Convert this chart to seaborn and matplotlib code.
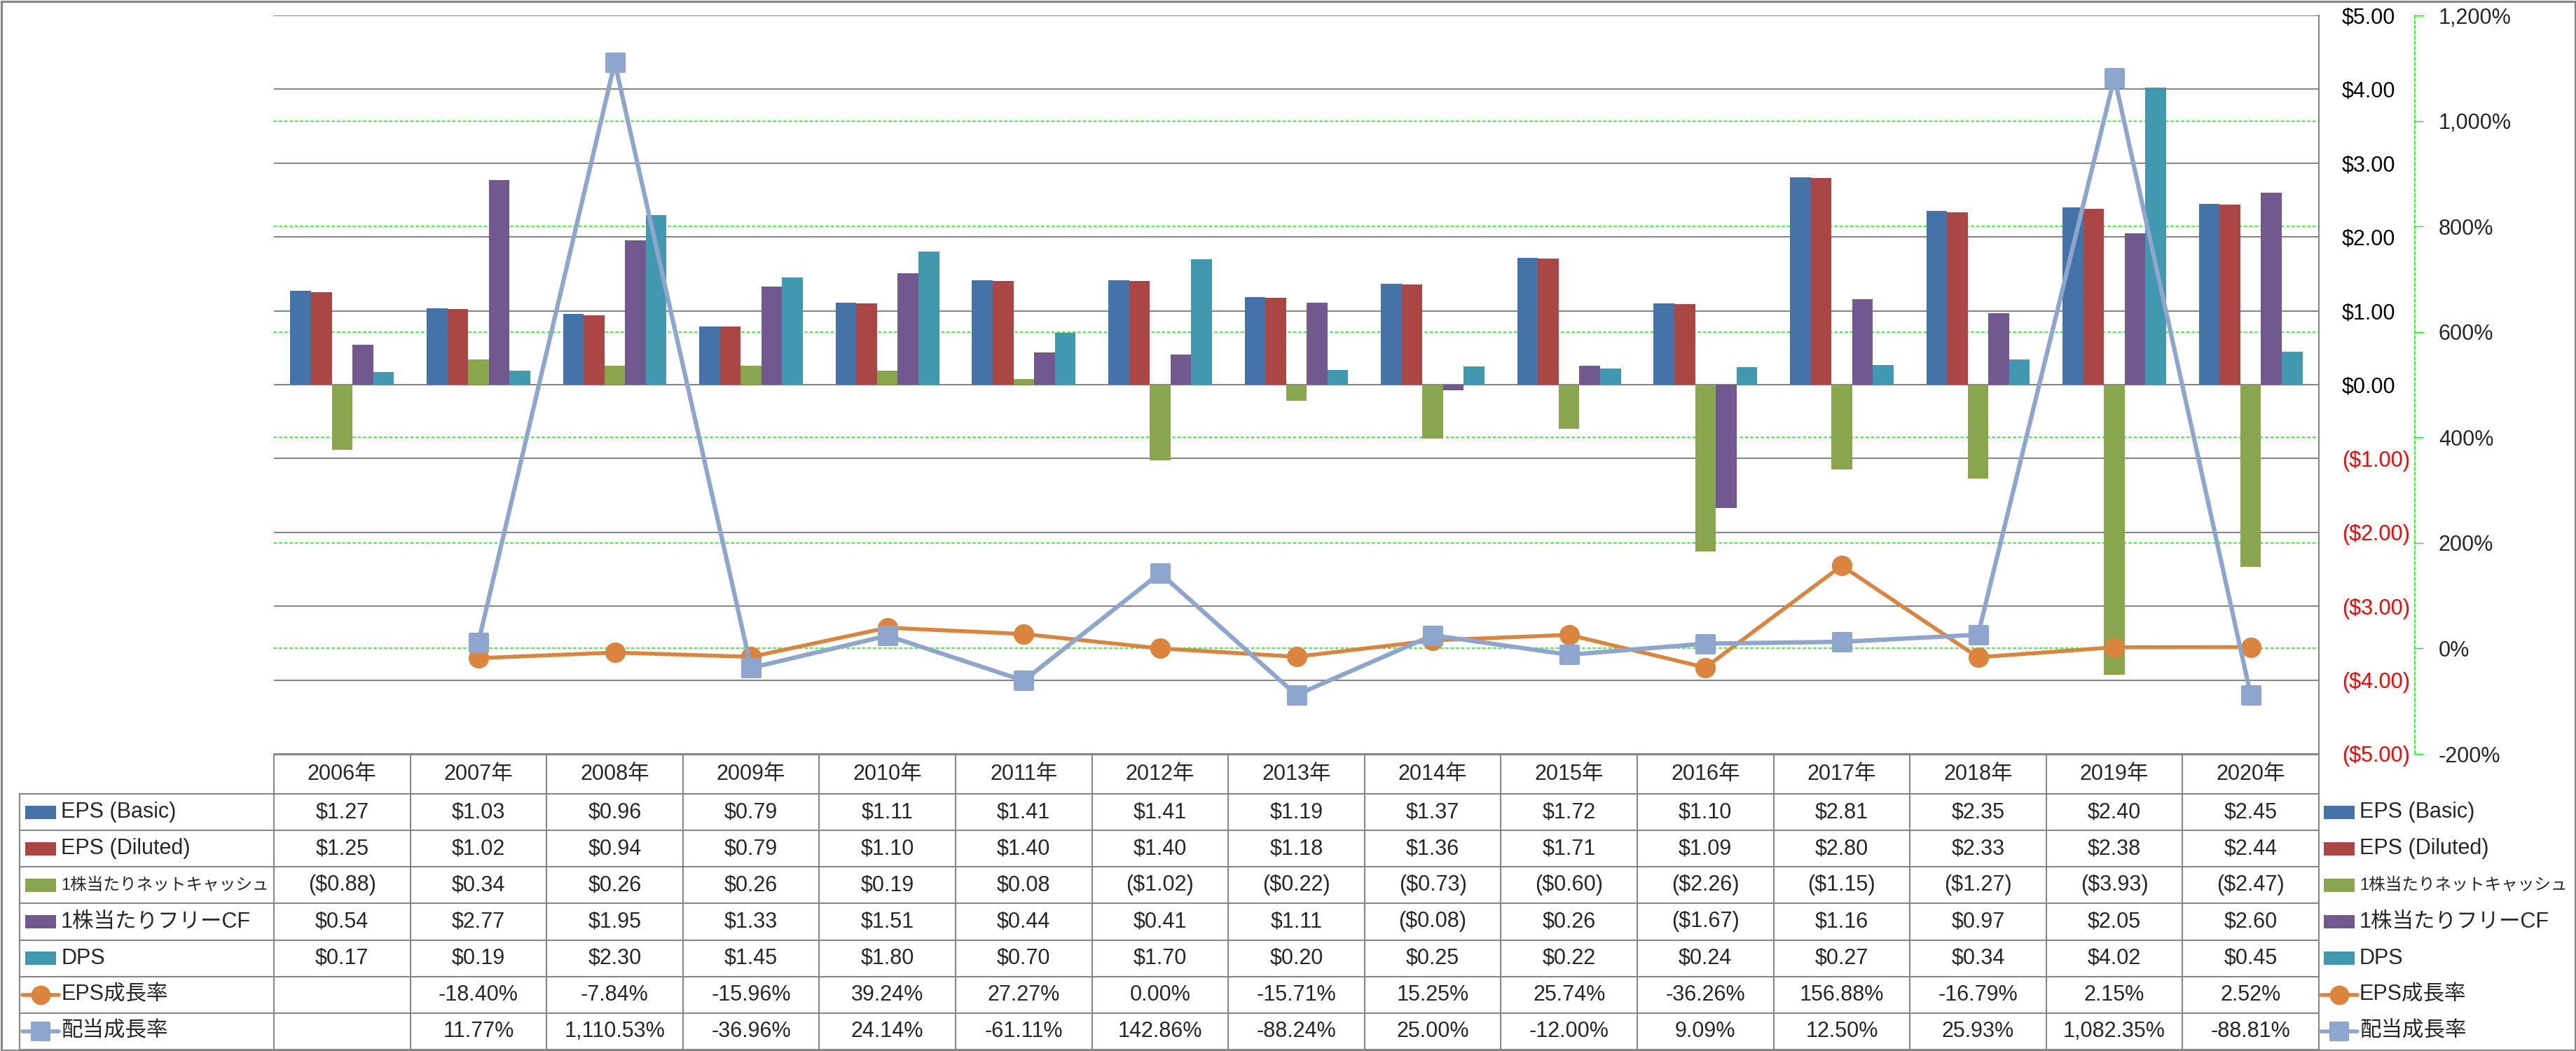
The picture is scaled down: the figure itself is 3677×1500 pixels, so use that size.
import numpy as np
import pandas as pd
import matplotlib
matplotlib.use("Agg")
import matplotlib.pyplot as plt
import seaborn as sns
from matplotlib.patches import Rectangle
from matplotlib.markers import MarkerStyle

# ---------------- data ----------------
years = [f"{y}年" for y in range(2006, 2021)]

bar_series = ["EPS (Basic)", "EPS (Diluted)", "1株当たりネットキャッシュ", "1株当たりフリーCF", "DPS"]
eps_basic = [1.27, 1.03, 0.96, 0.79, 1.11, 1.41, 1.41, 1.19, 1.37, 1.72, 1.10, 2.81, 2.35, 2.40, 2.45]
eps_diluted = [1.25, 1.02, 0.94, 0.79, 1.10, 1.40, 1.40, 1.18, 1.36, 1.71, 1.09, 2.80, 2.33, 2.38, 2.44]
net_cash_ps = [-0.88, 0.34, 0.26, 0.26, 0.19, 0.08, -1.02, -0.22, -0.73, -0.60, -2.26, -1.15, -1.27, -3.93, -2.47]
fcf_ps = [0.54, 2.77, 1.95, 1.33, 1.51, 0.44, 0.41, 1.11, -0.08, 0.26, -1.67, 1.16, 0.97, 2.05, 2.60]
dps = [0.17, 0.19, 2.30, 1.45, 1.80, 0.70, 1.70, 0.20, 0.25, 0.22, 0.24, 0.27, 0.34, 4.02, 0.45]

line_series = ["EPS成長率", "配当成長率"]
eps_growth = [np.nan, -18.40, -7.84, -15.96, 39.24, 27.27, 0.00, -15.71, 15.25, 25.74, -36.26, 156.88, -16.79, 2.15, 2.52]
div_growth = [np.nan, 11.77, 1110.53, -36.96, 24.14, -61.11, 142.86, -88.24, 25.00, -12.00, 9.09, 12.50, 25.93, 1082.35, -88.81]

money_ticks = list(range(-5, 6))
pct_ticks = list(range(-200, 1201, 200))

bar_colors = ["#4572A7", "#AA4643", "#89A54E", "#71588F", "#4198AF"]
line_colors = ["#DB843D", "#8EA6CE"]

# ---------------- setup ----------------
sns.set_style("white")
plt.rcParams["font.family"] = ["Liberation Sans", "Noto Sans CJK JP"]

W, H = 3677, 1500
PL, PR, PT, PB = 391, 3310, 22, 1076
GRAY = "#868686"
GREEN = "#00FF00"
RED = "#FF0000"
FS = 22

fig = plt.figure(figsize=(W / 100, H / 100), dpi=100)
fig.patch.set_facecolor("white")
ax = fig.add_axes([PL / W, 1 - PB / H, (PR - PL) / W, (PB - PT) / H])
ax2 = ax.twinx()

bar_values = [eps_basic, eps_diluted, net_cash_ps, fcf_ps, dps]
df = pd.concat(
    [pd.DataFrame({"year": years, "value": v, "series": s}) for s, v in zip(bar_series, bar_values)],
    ignore_index=True,
)

sns.barplot(data=df, x="year", y="value", hue="series", order=years, hue_order=bar_series,
            palette=bar_colors, width=0.76, saturation=1, errorbar=None, linewidth=0,
            legend=False, ax=ax)

ax.set_ylim(-5, 5)
ax.set_yticks(money_ticks)
ax.yaxis.grid(True, color=GRAY, lw=1.5)
ax.xaxis.grid(False)
ax.set_axisbelow(True)
ax.yaxis.tick_right()
ax.set_yticklabels([f"${v:.2f}" if v >= 0 else f"(${-v:.2f})" for v in money_ticks])
for t, v in zip(ax.get_yticklabels(), money_ticks):
    t.set_color(RED if v < 0 else "black")
ax.tick_params(axis="y", length=0, pad=23.8, labelsize=FS)
ax.tick_params(axis="x", bottom=False, labelbottom=False)
ax.set_xlabel("")
ax.set_ylabel("")
for s in ["top", "left", "bottom"]:
    ax.spines[s].set_visible(False)
ax.spines["right"].set_color(GRAY)
ax.spines["right"].set_linewidth(1.5)

# secondary axis
ax2.set_ylim(-200, 1200)
ax2.set_yticks(pct_ticks)
ax2.set_yticklabels([f"{v:,.0f}%" for v in pct_ticks])
for t, v in zip(ax2.get_yticklabels(), pct_ticks):
    t.set_color(RED if v < 0 else "black")
ax2.tick_params(axis="y", length=8.6, width=1, color=GREEN, pad=15.8, labelsize=FS, direction="out")
for s in ["top", "left", "bottom"]:
    ax2.spines[s].set_visible(False)
ax2.spines["right"].set_position(("axes", 1 + (3447 - PR) / (PR - PL)))
ax2.spines["right"].set_color(GREEN)
ax2.spines["right"].set_linewidth(1.2)
ax2.spines["right"].set_linestyle((0, (2.5, 2)))

# green dashed gridlines of secondary axis (behind bars)
for p in pct_ticks[1:-1]:
    yv = -5 + (p + 200) / 1400 * 10
    ax.axhline(yv, color=GREEN, lw=1.2, ls=(0, (2.5, 2)), zorder=0.8)

# lines
idx = np.arange(len(years))
eg = np.array(eps_growth, dtype=float)
dg = np.array(div_growth, dtype=float)
m1 = ~np.isnan(eg)
m2 = ~np.isnan(dg)
sns.lineplot(x=idx[m1], y=eg[m1], ax=ax2, color=line_colors[0], lw=4, marker="o",
             markersize=21, markeredgewidth=0, sort=False, errorbar=None)
sns.lineplot(x=idx[m2], y=dg[m2], ax=ax2, color=line_colors[1], lw=4.5,
             marker=MarkerStyle("s", joinstyle="round"), markersize=18,
             markeredgewidth=3, markeredgecolor=line_colors[1], sort=False, errorbar=None)
ax2.set_ylim(-200, 1200)
ax2.set_xlabel("")
ax2.set_ylabel("")
ax.set_xlim(-0.5, len(years) - 0.5)

# ---------------- data table & legends ----------------
axo = fig.add_axes([0, 0, 1, 1], zorder=10)
axo.set_xlim(0, W)
axo.set_ylim(H, 0)
axo.axis("off")

cw = (PR - PL) / len(years)
T_TOP = 1077
HDR_B = 1133
RH = (1498 - HDR_B) / 7
LBL_L = 28

axo.plot([PL, PR], [T_TOP, T_TOP], color=GRAY, lw=1.5)
for k in range(8):
    yk = HDR_B + k * RH
    axo.plot([LBL_L, PR], [yk, yk], color=GRAY, lw=1.5)
axo.plot([LBL_L, LBL_L], [HDR_B, 1498], color=GRAY, lw=1.5)
for k in range(len(years) + 1):
    xk = PL + k * cw
    axo.plot([xk, xk], [T_TOP, 1498], color=GRAY, lw=1.5)

for k, yl in enumerate(years):
    axo.text(PL + (k + 0.5) * cw, (T_TOP + HDR_B) / 2, yl, ha="center", va="center", fontsize=FS)


def money(v):
    return f"${v:.2f}" if v >= 0 else f"(${-v:.2f})"


def pct(v):
    return "" if np.isnan(v) else f"{v:,.2f}%"


rows = [(s, [money(v) for v in vals]) for s, vals in zip(bar_series, bar_values)]
rows += [(line_series[0], [pct(v) for v in eg]), (line_series[1], [pct(v) for v in dg])]

all_names = bar_series + line_series
all_colors = bar_colors + line_colors


def legend_glyph(x0, yc, i):
    if i < 5:
        axo.add_patch(Rectangle((x0, yc - 9.5), 44, 19, color=all_colors[i], lw=0))
    else:
        mk = "o" if i == 5 else MarkerStyle("s", joinstyle="round")
        ms = 20 if i == 5 else 17
        axo.plot([x0 - 4, x0 + 22, x0 + 48], [yc, yc, yc], color=all_colors[i], lw=4,
                 marker=mk, markersize=ms, markevery=[1], markeredgewidth=0 if i == 5 else 3,
                 markeredgecolor=all_colors[i])


for r, (name, cells) in enumerate(rows):
    yc = HDR_B + (r + 0.5) * RH
    fsz = 17 if name == "1株当たりネットキャッシュ" else FS
    legend_glyph(36, yc, r)
    axo.text(87, yc, name, ha="left", va="center", fontsize=fsz)
    for k, c in enumerate(cells):
        axo.text(PL + (k + 0.5) * cw, yc, c, ha="center", va="center", fontsize=FS)
    # right legend
    legend_glyph(3317, yc, r)
    axo.text(3368, yc, name, ha="left", va="center", fontsize=fsz)

axo.add_patch(Rectangle((1.5, 1.5), W - 3, H - 3, fill=False, ec=GRAY, lw=2.2))

fig.savefig("out.png", dpi=100)
